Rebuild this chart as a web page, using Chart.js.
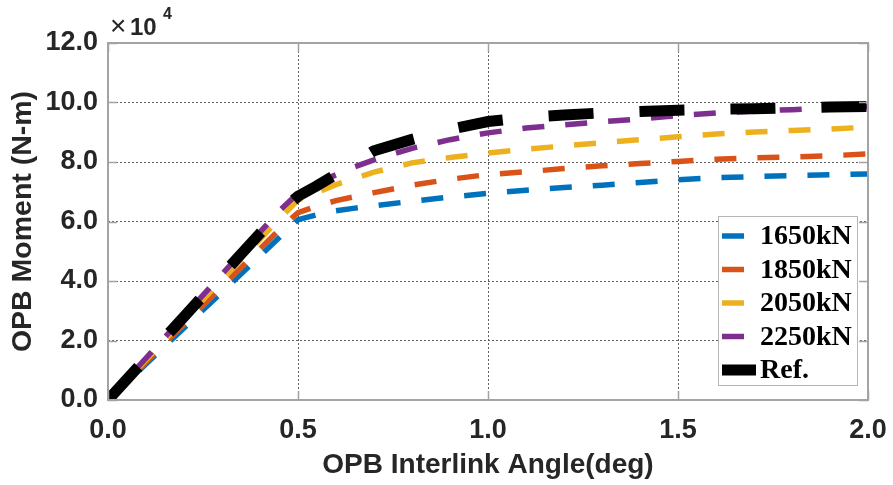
<!DOCTYPE html>
<html>
<head>
<meta charset="utf-8">
<script src="https://cdn.jsdelivr.net/npm/chart.js@4.4.1/dist/chart.umd.min.js"></script>
<style>
  html, body { margin: 0; padding: 0; background: #ffffff; }
  #wrap { width: 893px; height: 485px; }
</style>
</head>
<body>
<div id="wrap"><canvas id="c" width="893" height="485"></canvas></div>
<script>
// OPB interlink angle (deg)
const angleDeg = [0, 0.1, 0.2, 0.3, 0.4, 0.45, 0.5, 0.55, 0.6, 0.65, 0.7, 0.8, 0.9, 1.0, 1.1, 1.2, 1.3, 1.4, 1.5, 1.6, 1.7, 1.8, 1.9, 2.0];

// OPB moment, in units of 10^4 N-m, for each chain pretension
const moment1650 = [0, 1.21, 2.42, 3.63, 4.84, 5.45, 6.06, 6.23, 6.36, 6.45, 6.53, 6.68, 6.82, 6.95, 7.05, 7.14, 7.22, 7.31, 7.40, 7.47, 7.51, 7.54, 7.57, 7.60];
const moment1850 = [0, 1.27, 2.54, 3.81, 5.08, 5.72, 6.30, 6.52, 6.70, 6.84, 6.97, 7.22, 7.42, 7.58, 7.67, 7.78, 7.87, 7.95, 8.02, 8.09, 8.14, 8.17, 8.21, 8.27];
const moment2050 = [0, 1.35, 2.70, 4.05, 5.40, 6.08, 6.72, 6.98, 7.24, 7.45, 7.66, 7.97, 8.15, 8.30, 8.43, 8.54, 8.65, 8.75, 8.85, 8.94, 9.01, 9.06, 9.11, 9.17];
const moment2250 = [0, 1.41, 2.82, 4.23, 5.64, 6.35, 6.95, 7.30, 7.57, 7.84, 8.07, 8.46, 8.75, 8.98, 9.14, 9.25, 9.35, 9.45, 9.56, 9.65, 9.71, 9.76, 9.81, 9.86];
const momentRef  = [0, 1.40, 2.80, 4.20, 5.60, 6.30, 6.85, 7.20, 7.58, 7.98, 8.38, 8.76, 9.10, 9.36, 9.50, 9.58, 9.65, 9.70, 9.74, 9.77, 9.79, 9.82, 9.85, 9.87];

const seriesLabels = ['1650kN', '1850kN', '2050kN', '2250kN', 'Ref.'];
const xTicks = [0, 0.5, 1.0, 1.5, 2.0];
const yTicks = [0, 2, 4, 6, 8, 10, 12];

const toPoints = (ys) => ys.map((y, i) => ({ x: angleDeg[i], y: y }));

const AREA = { left: 108, top: 43, right: 868, bottom: 400 };
const FRAME = '#a3a3a3';
const TEXT = '#262626';

function series(label, values, color, width, dash, order) {
  return {
    label: label,
    data: toPoints(values),
    borderColor: color,
    backgroundColor: color,
    borderWidth: width,
    borderDash: dash,
    borderCapStyle: 'butt',
    pointRadius: 0,
    pointHoverRadius: 0,
    tension: 0,
    fill: false,
    order: order
  };
}

// Axes box with inward tick marks on all four sides
const boxPlugin = {
  id: 'boxPlugin',
  afterDatasetsDraw(chart) {
    const { ctx, chartArea: a, scales } = chart;
    ctx.save();
    ctx.strokeStyle = FRAME;
    ctx.lineWidth = 1.5;
    const len = 9;
    ctx.beginPath();
    xTicks.forEach(v => {
      const px = Math.round(scales.x.getPixelForValue(v)) + 0.5;
      ctx.moveTo(px, a.bottom); ctx.lineTo(px, a.bottom - len);
      ctx.moveTo(px, a.top); ctx.lineTo(px, a.top + len);
    });
    yTicks.forEach(v => {
      const py = Math.round(scales.y.getPixelForValue(v)) + 0.5;
      ctx.moveTo(a.left, py); ctx.lineTo(a.left + len, py);
      ctx.moveTo(a.right, py); ctx.lineTo(a.right - len, py);
    });
    ctx.stroke();
    ctx.lineWidth = 2;
    ctx.strokeRect(a.left, a.top, a.right - a.left, a.bottom - a.top);
    ctx.restore();
  },
  afterDraw(chart) {
    const { ctx, chartArea: a } = chart;
    ctx.save();
    ctx.fillStyle = TEXT;
    ctx.textBaseline = 'alphabetic';
    ctx.textAlign = 'left';
    ctx.font = '28px "Liberation Sans", Arial, sans-serif';
    ctx.fillText('\u00D7', a.left + 2, 35);
    ctx.font = 'bold 24px "Liberation Sans", Arial, sans-serif';
    ctx.fillText('10', a.left + 22, 35);
    ctx.font = 'bold 16px "Liberation Sans", Arial, sans-serif';
    ctx.fillText('4', a.left + 55, 19);
    ctx.restore();
  }
};

// Boxed legend in the lower right of the plot area
const legendPlugin = {
  id: 'boxLegend',
  afterDraw(chart) {
    const { ctx } = chart;
    const sets = chart.data.datasets;
    const bx = 718, by = 216, bw = 139, bh = 169;
    ctx.save();
    ctx.fillStyle = '#ffffff';
    ctx.fillRect(bx, by, bw, bh);
    ctx.strokeStyle = '#b5b5b5';
    ctx.lineWidth = 1;
    ctx.strokeRect(bx + 0.5, by + 0.5, bw, bh);
    ctx.font = 'bold 28px "Liberation Serif", "Times New Roman", serif';
    ctx.textBaseline = 'middle';
    ctx.textAlign = 'left';
    sets.forEach((ds, i) => {
      const y = 236 + i * 33.5;
      const thick = ds.borderWidth > 8;
      ctx.strokeStyle = ds.borderColor;
      ctx.lineWidth = ds.borderWidth;
      ctx.setLineDash([]);
      ctx.lineCap = 'butt';
      ctx.beginPath();
      ctx.moveTo(bx + 4, y);
      ctx.lineTo(bx + (thick ? 38 : 26), y);
      ctx.stroke();
      ctx.fillStyle = '#000000';
      ctx.fillText(ds.label, 760, y + 1);
    });
    ctx.restore();
  }
};

new Chart(document.getElementById('c'), {
  type: 'line',
  data: {
    datasets: [
      series(seriesLabels[0], moment1650, '#0072BD', 5.5, [22, 21], 5),
      series(seriesLabels[1], moment1850, '#D95319', 5.5, [22, 21], 4),
      series(seriesLabels[2], moment2050, '#EDB120', 5.5, [22, 21], 3),
      series(seriesLabels[3], moment2250, '#7E2F8E', 5.5, [22, 21], 2),
      series(seriesLabels[4], momentRef,  '#000000', 11,  [45, 46], 1)
    ]
  },
  options: {
    responsive: false,
    animation: false,
    events: [],
    layout: { padding: { left: 0, top: AREA.top, right: 893 - AREA.right, bottom: 0 } },
    plugins: {
      legend: { display: false },
      tooltip: { enabled: false },
      title: { display: false }
    },
    scales: {
      x: {
        type: 'linear',
        min: 0,
        max: 2,
        afterBuildTicks(scale) { scale.ticks = xTicks.map(v => ({ value: v })); },
        afterFit(scale) {
          scale.height = 485 - AREA.bottom;
          scale.paddingLeft = 0;
          scale.paddingRight = 0;
        },
        ticks: {
          padding: 14,
          color: TEXT,
          font: { family: '"Liberation Sans", Arial, sans-serif', size: 27, weight: 'bold' },
          callback: (v) => Number(v).toFixed(1),
          maxRotation: 0
        },
        grid: { color: 'rgba(70,70,70,0.85)', lineWidth: 1, drawTicks: false },
        border: { display: false, dash: [2, 2] },
        title: {
          display: true,
          text: 'OPB Interlink Angle(deg)',
          color: TEXT,
          font: { family: '"Liberation Sans", Arial, sans-serif', size: 28, weight: 'bold', lineHeight: 1 },
          padding: { top: 0, bottom: 6 }
        }
      },
      y: {
        type: 'linear',
        min: 0,
        max: 12,
        afterBuildTicks(scale) { scale.ticks = yTicks.map(v => ({ value: v })); },
        afterFit(scale) {
          scale.width = AREA.left;
          scale.paddingTop = 0;
          scale.paddingBottom = 0;
        },
        ticks: {
          padding: 10,
          color: TEXT,
          font: { family: '"Liberation Sans", Arial, sans-serif', size: 27, weight: 'bold' },
          callback: (v) => Number(v).toFixed(1)
        },
        grid: { color: 'rgba(70,70,70,0.85)', lineWidth: 1, drawTicks: false },
        border: { display: false, dash: [2, 2] },
        title: {
          display: true,
          text: 'OPB Moment (N-m)',
          color: TEXT,
          font: { family: '"Liberation Sans", Arial, sans-serif', size: 28.5, weight: 'bold', lineHeight: 1 },
          padding: { top: 9, bottom: 0 }
        }
      }
    }
  },
  plugins: [boxPlugin, legendPlugin]
});
</script>
</body>
</html>
